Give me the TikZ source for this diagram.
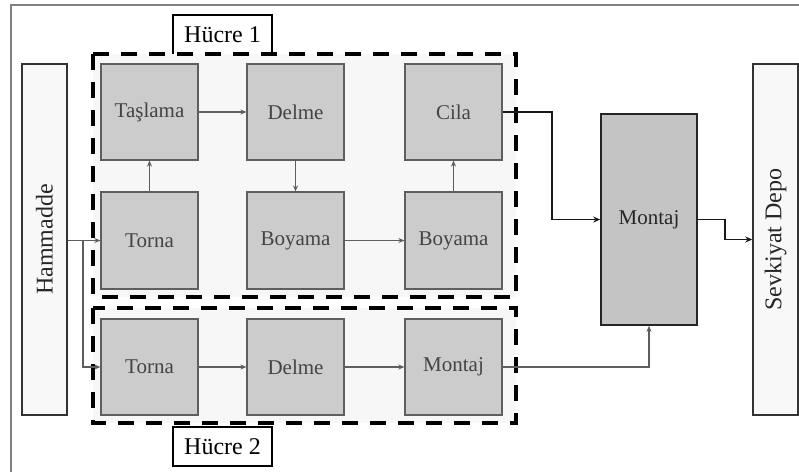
\documentclass[tikz,border=0pt]{standalone}
\usepackage{fontspec}
\setmainfont{Liberation Serif}
\usetikzlibrary{arrows.meta}
\definecolor{cellfill}{HTML}{F7F7F7}
\definecolor{boxfill}{HTML}{CCCCCC}
\definecolor{boxline}{HTML}{5E5E5E}
\definecolor{boxtext}{HTML}{444444}
\definecolor{bigfill}{HTML}{C4C4C4}
\definecolor{sidefill}{HTML}{F8F8F8}
\definecolor{frame}{HTML}{808080}
\tikzset{
  machine/.style={draw=boxline, line width=1.2pt, fill=boxfill, text=boxtext,
    minimum width=97pt, minimum height=97pt, inner sep=0pt,
    font=\fontsize{21}{24}\selectfont},
  bigmachine/.style={draw=black!85, line width=1.6pt, fill=bigfill, text=black!85,
    minimum width=96pt, minimum height=211pt, inner sep=0pt,
    font=\fontsize{21}{24}\selectfont},
  store/.style={draw=black!80, line width=1.5pt, fill=sidefill, text=black!85,
    minimum width=351pt, minimum height=45pt, inner sep=0pt,
    font=\fontsize{24}{28}\selectfont, rotate=90},
  cell/.style={draw=black, line width=3.6pt, dash pattern=on 16pt off 12pt, fill=cellfill},
  celllabel/.style={draw=black, line width=1.4pt, fill=white, inner sep=0pt,
    minimum width=99pt, minimum height=40pt, font=\fontsize{24}{28}\selectfont},
  flow/.style={draw=boxline, line width=1.2pt, -{Stealth[length=6pt,width=5pt]}},
  mainflow/.style={draw=black!90, line width=1.6pt, -{Stealth[length=7pt,width=6pt]}},
}
\begin{document}
\begin{tikzpicture}[x=1pt, y=-1pt]
\useasboundingbox (0,0) rectangle (799,472);
\fill[white] (0,0) rectangle (799,472);
% outer frame
\draw[frame, line width=1.2pt] (11,472) -- (11,5) -- (799,5);

% cell labels and cell outlines
\node[celllabel] (l1) at (222.5,35) {Hücre 1};
\draw[cell] (93,54) rectangle (516,297);
\draw[cell] (93,308) rectangle (516,423);
\node[celllabel, minimum height=39pt] (l2) at (222.5,446.5) {Hücre 2};

% raw material and shipping store
\node[store] (ham) at (44.5,239.5) {Hammadde};
\node[store] (sevk) at (775.5,239.5) {Sevkiyat Depo};

% cell 1 machines
\node[machine, minimum height=96pt] (tas) at (149.5,112) {Taşlama};
\node[machine, minimum height=96pt] (del1) at (295.5,112) {Delme};
\node[machine, minimum height=96pt] (cila) at (453.5,112) {Cila};
\node[machine] (tor1) at (149.5,240.5) {Torna};
\node[machine] (boy1) at (295.5,240.5) {Boyama};
\node[machine] (boy2) at (453.5,240.5) {Boyama};

% cell 2 machines
\node[machine, minimum height=96pt] (tor2) at (149.5,367) {Torna};
\node[machine, minimum height=96pt] (del2) at (295.5,367) {Delme};
\node[machine, minimum height=96pt] (mon2) at (453.5,367) {Montaj};

% final assembly
\node[bigmachine] (mon) at (649,219.5) {Montaj};

% flows inside cell 1
\draw[flow] (tor1.north) -- (tas.south);
\draw[flow] (tas.east) -- (del1.west);
\draw[flow] (del1.south) -- (boy1.north);
\draw[flow] (boy1.east) -- (boy2.west);
\draw[flow] (boy2.north) -- (cila.south);

% flows inside cell 2
\draw[flow] (tor2.east) -- (del2.west);
\draw[flow] (del2.east) -- (mon2.west);

% raw material feed
\coordinate (split) at (83,240.5);
\draw[flow] (ham.south |- tor1.west) -- (tor1.west);
\draw[flow] (split) |- (tor2.west);

% cell outputs to assembly and shipping
\coordinate (c1) at (552,112);
\draw[mainflow] (cila.east) -- (c1) |- (mon.west);
\draw[flow, line width=1.5pt] (mon2.east) -| (mon.south);
\coordinate (m1) at (725,219.5);
\draw[mainflow] (mon.east) -- (m1) |- (sevk.north);
\end{tikzpicture}
\end{document}
